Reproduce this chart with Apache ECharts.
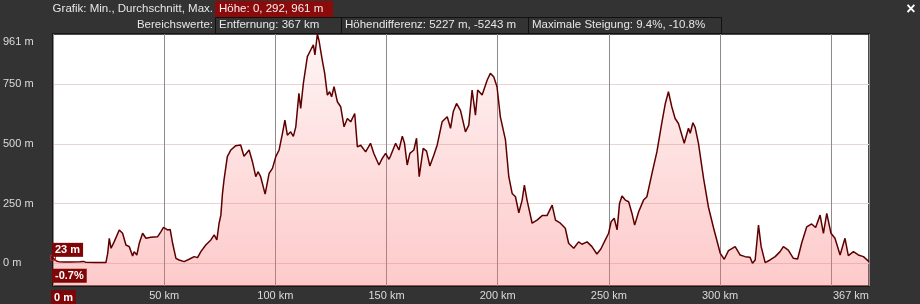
<!DOCTYPE html>
<html><head><meta charset="utf-8">
<script src="https://cdn.jsdelivr.net/npm/echarts@6/dist/echarts.min.js"></script>
<style>html,body{margin:0;padding:0;background:#333;}#c{width:920px;height:304px;}</style>
</head><body><div id="c"></div>
<script>
// ---- data ----
const distKm = [0,0.6,1.5,2.5,5,8,12,13.8,14.2,14.8,19,23.8,24.6,25.3,26.1,27.5,29.8,31.3,32.8,34.3,35.8,36.5,37.7,38.8,40.3,41.8,44.0,47.0,48.5,49.7,51.5,52.7,53.8,55.3,56.7,59.0,59.7,61.2,63.5,65.0,66.5,68.7,71.0,72.5,73.7,74.7,75.5,76.2,76.9,78.4,80.0,82.2,84.4,85.9,88.2,89.7,91.2,92.2,93.4,95.4,97.2,98.7,100.2,101.7,103.2,104.3,105.4,106.9,108.1,109.2,110.6,111.4,112.6,114.4,115.9,117.1,117.8,118.9,119.6,121.1,122.2,123.4,124.4,125.3,126.4,127.9,129.4,130.9,132.4,133.9,135.7,136.9,138.4,140.6,142.8,144.3,146.6,148.1,149.6,151.1,151.8,154.1,155.6,157.1,158.1,159.3,160.5,162.3,163.5,164.7,166.5,168.0,169.5,171.3,172.8,175.0,177.3,178.8,180.0,181.5,183.3,185.5,187.0,188.5,190.0,191.0,193.0,195.3,196.7,198.2,199.7,201.2,203.5,205.0,206.5,208.0,209.5,211.0,212.0,213.2,215.5,217.7,220.0,222.2,224.5,226.0,228.2,230.4,231.9,234.2,236.4,237.9,240.2,242.4,244.6,246.4,248.4,249.9,251.0,252.4,253.7,254.8,255.9,257.4,258.9,260.4,261.6,263.4,265.6,267.1,269.4,271.6,273.9,275.4,276.8,278.3,279.8,281.3,283.9,285.8,286.6,287.8,288.8,290.3,292.6,294.8,297.1,300.1,301.9,303.8,306.8,309.0,311.3,313.5,314.6,315.8,317.3,318.5,320.3,322.5,324.8,327.0,328.5,330.7,333.0,334.9,336.7,339.0,341.2,343.0,345.0,346.5,348.0,349.9,351.7,354.0,356.2,357.7,360.0,362.2,364.5,367];
const elevM = [23,26,10,7,6,6,7,8,12,4,3,3,42,105,63,90,140,126,77,70,31,49,35,84,126,105,109,111,132,151,140,142,84,21,14,7,3,17,28,24,49,77,98,119,98,168,202,290,349,447,475,493,496,449,475,426,363,384,363,290,377,398,447,475,545,600,537,551,532,572,712,649,754,866,894,915,873,961,935,852,796,705,719,698,740,677,656,572,607,593,628,488,495,467,503,460,412,440,461,436,450,503,475,533,503,412,461,475,524,363,482,470,408,454,496,593,614,566,635,670,640,551,579,726,621,726,705,768,796,782,740,614,517,363,293,279,212,265,328,265,168,181,200,200,244,181,168,147,84,63,90,80,90,70,39,60,98,126,174,189,140,251,282,265,258,209,160,216,265,279,377,467,593,670,719,656,607,586,503,566,545,589,570,503,356,235,148,42,17,53,70,35,28,25,0,14,160,70,3,14,28,49,70,55,21,18,84,153,165,150,202,126,209,126,105,35,105,32,49,35,28,7];
const totalKm = 367;
const yMin = -95, yMax = 961;
const xLabelValues = [0,50,100,150,200,250,300,367];
const yLabelValues = [0,250,500,750,961];
const yGridValues = [0,250,500,750];
const row1Caption = 'Grafik: Min., Durchschnitt, Max.';
const row1Value = 'Höhe: 0, 292, 961 m';
const row2Caption = 'Bereichswerte:';
const row2Values = ['Entfernung: 367 km','Höhendifferenz: 5227 m, -5243 m','Maximale Steigung: 9.4%, -10.8%'];
const cursorKm = 0, cursorElev = 23, cursorGrade = '-0.7%', cursorDist = '0 m';

// ---- chart ----
const FONT = '"Liberation Sans", Arial, sans-serif';
const chart = echarts.init(document.getElementById('c'));
const data = distKm.map((d,i)=>[d, elevM[i]]);
const labelColor = '#dcdcdc';
const boxRed = '#7e0606';

chart.setOption({
  backgroundColor:'#333333',
  animation:false,
  textStyle:{fontFamily:FONT},
  grid:{left:52,right:51,top:34,bottom:18,show:true,backgroundColor:'#ffffff',borderColor:'#111111',borderWidth:1.5},
  xAxis:{type:'value',min:0,max:totalKm,interval:50,
    axisLine:{show:false},axisTick:{show:false},
    axisLabel:{customValues:xLabelValues,color:labelColor,fontSize:11,margin:4,
      formatter:v=> v===0 ? '{sp|}{box|'+cursorDist+'}' : (v===totalKm ? '{end|'+v+' km}' : v+' km'),
      rich:{
        sp:{width:21},
        box:{backgroundColor:boxRed,color:'#ffffff',fontWeight:'bold',fontSize:11,padding:[2,3,1,3]},
        end:{padding:[0,36,0,0],color:labelColor,fontSize:11}
      }},
    splitLine:{show:true,lineStyle:{color:'#8c8c8c',width:1}}},
  yAxis:{type:'value',min:yMin,max:yMax,
    axisLine:{show:false},
    axisTick:{show:false,customValues:yGridValues},
    axisLabel:{customValues:yLabelValues,color:labelColor,fontSize:11,align:'left',margin:50,
      formatter:v=> v===yMax ? '{top|'+v+' m}' : v+' m',
      rich:{top:{padding:[15,0,0,0],color:labelColor,fontSize:11}}},
    splitLine:{show:true,lineStyle:{color:'#ead3d3',width:1}}},
  series:[{type:'line',data:data,symbol:'none',showSymbol:false,
    lineStyle:{color:'#5e0000',width:1.5},
    areaStyle:{origin:'start',color:new echarts.graphic.LinearGradient(0,0,0,1,[
      {offset:0,color:'rgba(250,110,110,0.10)'},{offset:1,color:'rgba(250,110,110,0.52)'}])},
    markPoint:{silent:true,symbol:'rect',symbolSize:5,
      itemStyle:{color:'rgba(0,0,0,0)',borderColor:'#d42020',borderWidth:1},
      label:{show:false},
      data:[{coord:[cursorKm,cursorElev]}]}
  }]
});

const p = chart.convertToPixel({gridIndex:0},[cursorKm,cursorElev]);
const boxStyle = {fill:'#ffffff',font:'bold 11px '+FONT,backgroundColor:boxRed,padding:[2,3,1,3],verticalAlign:'top'};
chart.setOption({graphic:[
  // header row 1
  {type:'text',left:null,x:213,y:9,style:{text:row1Caption,fill:'#e6e6e6',font:'11.5px '+FONT,align:'right',verticalAlign:'middle'}},
  {type:'rect',x:215,y:1,shape:{width:118,height:16},style:{fill:'#8c0a0a'}},
  {type:'text',x:219,y:9,style:{text:row1Value,fill:'#f2f2f2',font:'11.5px '+FONT,verticalAlign:'middle'}},
  // header row 2
  {type:'text',x:213,y:25,style:{text:row2Caption,fill:'#e6e6e6',font:'11.5px '+FONT,align:'right',verticalAlign:'middle'}},
  {type:'rect',x:215.5,y:17.5,shape:{width:126,height:16},style:{fill:'none',stroke:'#111111',lineWidth:1}},
  {type:'text',x:219,y:25,style:{text:row2Values[0],fill:'#e6e6e6',font:'11.5px '+FONT,verticalAlign:'middle'}},
  {type:'rect',x:341.5,y:17.5,shape:{width:187,height:16},style:{fill:'none',stroke:'#111111',lineWidth:1}},
  {type:'text',x:345,y:25,style:{text:row2Values[1],fill:'#e6e6e6',font:'11.5px '+FONT,verticalAlign:'middle'}},
  {type:'rect',x:528.5,y:17.5,shape:{width:193,height:16},style:{fill:'none',stroke:'#111111',lineWidth:1}},
  {type:'text',x:532,y:25,style:{text:row2Values[2],fill:'#e6e6e6',font:'11.5px '+FONT,verticalAlign:'middle'}},
  // close mark
  {type:'text',x:911,y:10,style:{text:'×',fill:'#ffffff',font:'bold 16px '+FONT,align:'center',verticalAlign:'middle'}},
  // cursor boxes
  {type:'text',x:p[0]-1,y:p[1]-15,z:10,style:Object.assign({},boxStyle,{text:cursorElev+' m'})},
  {type:'text',x:p[0]-1,y:p[1]+11,z:10,style:Object.assign({},boxStyle,{text:cursorGrade})}
]});
</script></body></html>
